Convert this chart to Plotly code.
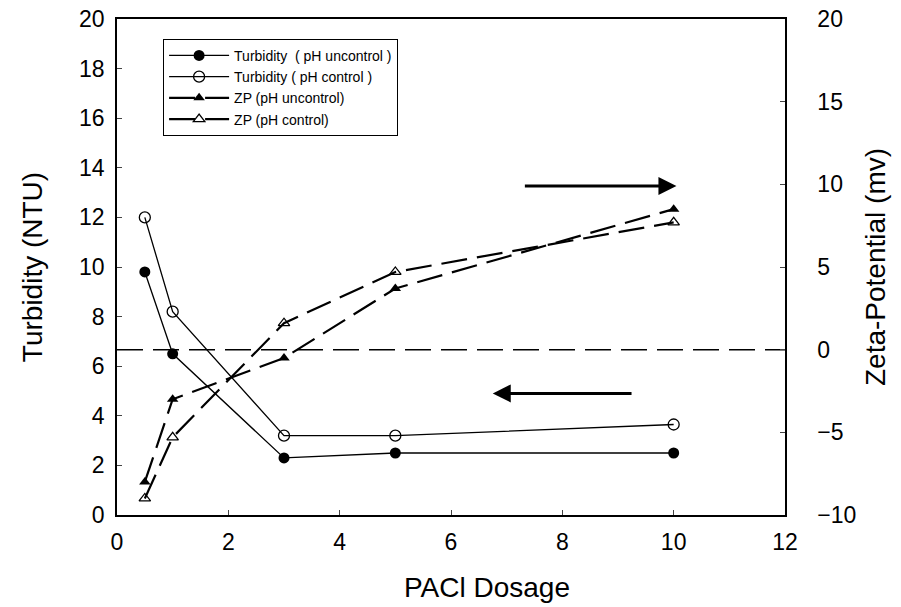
import plotly.graph_objects as go

dosage = [0.5, 1, 3, 5, 10]
turb_unctrl = [9.8, 6.5, 2.3, 2.5, 2.5]
turb_ctrl = [12.0, 8.2, 3.2, 3.2, 3.65]
zp_unctrl = [-8.0, -3.0, -0.5, 3.7, 8.5]
zp_ctrl = [-9.0, -5.3, 1.6, 4.7, 7.7]
zero_x = [0, 12]
zero_y = [0, 0]

FONT = "Liberation Sans, Arial, sans-serif"

fig = go.Figure()
fig.add_trace(go.Scatter(x=dosage, y=turb_unctrl, name="Turbidity  ( pH uncontrol )",
                         mode="lines+markers", line=dict(color="black", width=1.3),
                         marker=dict(symbol="circle", size=11, color="black")))
fig.add_trace(go.Scatter(x=dosage, y=turb_ctrl, name="Turbidity ( pH control )",
                         mode="lines+markers", line=dict(color="black", width=1.3),
                         marker=dict(symbol="circle-open", size=11, color="black", line=dict(width=1.3))))
fig.add_trace(go.Scatter(x=dosage, y=zp_unctrl, name="ZP (pH uncontrol)", yaxis="y2",
                         mode="lines+markers", line=dict(color="black", width=2.2, dash="26px,10px"),
                         marker=dict(symbol="triangle-up", size=10, color="black")))
fig.add_trace(go.Scatter(x=dosage, y=zp_ctrl, name="ZP (pH control)", yaxis="y2",
                         mode="lines+markers", line=dict(color="black", width=2.2, dash="26px,10px"),
                         marker=dict(symbol="triangle-up-open", size=10, color="black", line=dict(width=1.3))))
fig.add_trace(go.Scatter(x=zero_x, y=zero_y, yaxis="y2", mode="lines", showlegend=False,
                         line=dict(color="black", width=1.5, dash="26px,10px"), hoverinfo="skip"))

fig.add_annotation(x=10.05, y=9.9, ax=7.3, ay=9.9, xref="x", yref="y2", axref="x", ayref="y2",
                   showarrow=True, arrowhead=2, arrowsize=1.2, arrowwidth=3, arrowcolor="black", text="")
fig.add_annotation(x=6.75, y=4.9, ax=9.27, ay=4.9, xref="x", yref="y", axref="x", ayref="y",
                   showarrow=True, arrowhead=2, arrowsize=1.2, arrowwidth=3, arrowcolor="black", text="")
fig.add_annotation(text="PACl Dosage", x=0.554, y=-0.147, xref="paper", yref="paper",
                   xanchor="center", yanchor="middle", showarrow=False, font=dict(size=28))

fig.update_layout(
    width=901, height=607,
    margin=dict(l=117, r=116, t=19, b=92, autoexpand=False),
    plot_bgcolor="white", paper_bgcolor="white",
    font=dict(family=FONT, color="black", size=23),
    showlegend=True,
    legend=dict(x=0.069, y=0.96, xanchor="left", yanchor="top",
                bordercolor="black", borderwidth=1, bgcolor="white",
                font=dict(size=14, family=FONT), tracegroupgap=1, itemwidth=60),
    xaxis=dict(range=[0, 12], tickvals=[0, 2, 4, 6, 8, 10, 12], ticks="inside", ticklen=5,
               showline=True, linecolor="black", linewidth=1.5, mirror=True, showgrid=False,
               zeroline=False, ticklabelstandoff=6, automargin=False),
    yaxis=dict(range=[0, 20], tickvals=list(range(0, 21, 2)), ticks="inside", ticklen=5,
               showline=True, linecolor="black", linewidth=1.5, showgrid=False, zeroline=False,
               ticklabelstandoff=6, automargin=False,
               title=dict(text="Turbidity (NTU)", font=dict(size=28), standoff=28)),
    yaxis2=dict(range=[-10, 20], tickvals=list(range(-10, 21, 5)), ticks="inside", ticklen=5,
                overlaying="y", side="right", showline=True, linecolor="black", linewidth=1.5,
                showgrid=False, zeroline=False, ticklabelstandoff=26, automargin=False,
                title=dict(text="Zeta-Potential (mv)", font=dict(size=28), standoff=10)),
)

fig.write_html("out.html")
